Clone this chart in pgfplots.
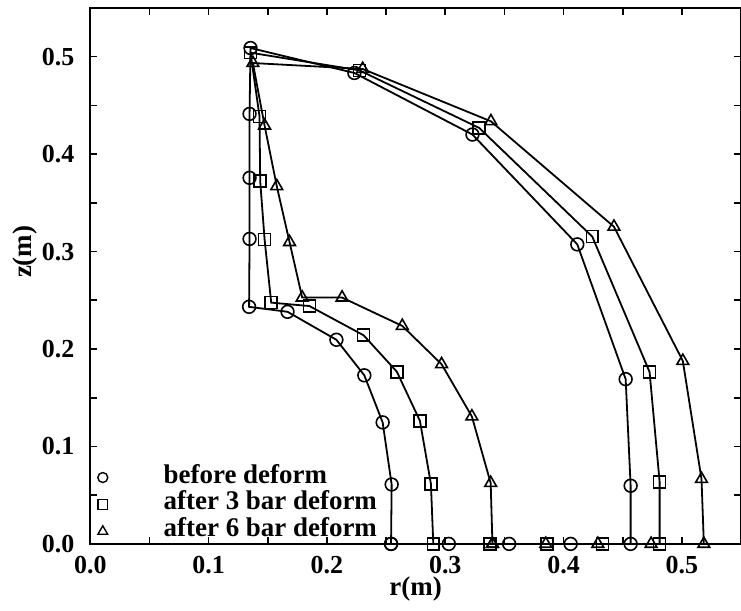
\documentclass[border=0pt]{standalone}
\usepackage{pgfplots}
\pgfplotsset{compat=1.18}
\usepackage{fontspec}
\setmainfont{Liberation Serif}
\begin{document}
\begin{tikzpicture}
\begin{axis}[
  name=ax,
  scale only axis,
  width=326pt, height=268.5pt,
  xmin=0, xmax=0.55, ymin=0, ymax=0.55,
  xtick={0,0.1,0.2,0.3,0.4,0.5},
  ytick={0,0.1,0.2,0.3,0.4,0.5},
  minor tick num=1,
  tick align=inside,
  major tick length=3.5pt, minor tick length=3.5pt,
  every tick/.style={black, line width=0.8pt},
  axis line style={line width=1.1pt},
  /pgf/number format/assume math mode=true,
  /pgf/number format/.cd, fixed, fixed zerofill, precision=1, /pgfplots/.cd,
  ticklabel style={font=\fontsize{13}{13}\selectfont\bfseries},
  xticklabel style={yshift=-2.5pt},
  yticklabel style={xshift=-4.5pt},
  xlabel={r(m)}, ylabel={z(m)},
  every axis x label/.style={at={(axis description cs:0.5,0)}, anchor=center, yshift=-22.5pt, font=\fontsize{13.5}{14}\selectfont\bfseries},
  every axis y label/.style={at={(axis description cs:-0.101,0.545)}, anchor=center, rotate=90, font=\fontsize{13.5}{14}\selectfont\bfseries},
  legend style={at={(axis cs:0,0)}, anchor=south west, xshift=3.75pt, yshift=-0.5pt,
    draw=none, fill=none, inner sep=0pt, outer sep=0pt,
    font=\fontsize{13.5}{14}\selectfont\bfseries,
    nodes={inner sep=0pt, text height=9.5pt, text depth=4pt},
    /tikz/every odd column/.append style={column sep=28pt}},
  legend cell align=left,
  every axis plot/.append style={black, line width=0.9pt, mark options={solid, line width=0.8pt}},
]
\addplot[mark=o, mark size=3.2pt, forget plot] coordinates {
(0.2542,0) (0.2547,0.061) (0.2471,0.1247) (0.2316,0.173) (0.2080,0.2095) (0.1667,0.2382) (0.1342,0.2433)
(0.1346,0.313) (0.1346,0.3757) (0.1346,0.4413) (0.1354,0.5089) (0.2232,0.4833) (0.3230,0.4201)
(0.4116,0.3074) (0.4525,0.1691) (0.4567,0.0597) (0.4567,0) (0.406,0) (0.354,0) (0.303,0) (0.2542,0)};
\addplot[mark=square, mark size=3pt, forget plot] coordinates {
(0.2899,0) (0.2879,0.0615) (0.2786,0.1263) (0.2591,0.1767) (0.2310,0.2141) (0.1852,0.2441) (0.1529,0.2476)
(0.1473,0.3125) (0.1436,0.3722) (0.1430,0.4388) (0.1354,0.5041) (0.2274,0.486) (0.3287,0.4269)
(0.4243,0.3153) (0.4727,0.1765) (0.4812,0.0638) (0.4812,0) (0.433,0) (0.386,0) (0.338,0) (0.2899,0)};
\addplot[mark=triangle, mark size=3.4pt, forget plot] coordinates {
(0.3399,0) (0.3384,0.0625) (0.3225,0.1308) (0.2969,0.1844) (0.2637,0.2237) (0.2128,0.2528) (0.1791,0.2528)
(0.1684,0.3097) (0.1576,0.3671) (0.1473,0.4293) (0.1374,0.4935) (0.2302,0.4874) (0.3386,0.4337)
(0.4426,0.3255) (0.5008,0.1878) (0.5166,0.0666) (0.5186,0) (0.474,0) (0.429,0) (0.385,0) (0.3399,0)};
\addlegendimage{only marks, mark=o, mark size=2.5pt, black, mark options={line width=0.7pt}}
\addlegendentry{before deform}
\addlegendimage{only marks, mark=square, mark size=2.5pt, black, mark options={line width=0.7pt}}
\addlegendentry{after 3 bar deform}
\addlegendimage{only marks, mark=triangle, mark size=2.8pt, black, mark options={line width=0.7pt}}
\addlegendentry{after 6 bar deform}
\end{axis}
\pgfresetboundingbox
\path ([xshift=-45.25pt, yshift=-33.5pt]ax.south west) rectangle ([yshift=4pt]ax.north east);
\end{tikzpicture}
\end{document}
